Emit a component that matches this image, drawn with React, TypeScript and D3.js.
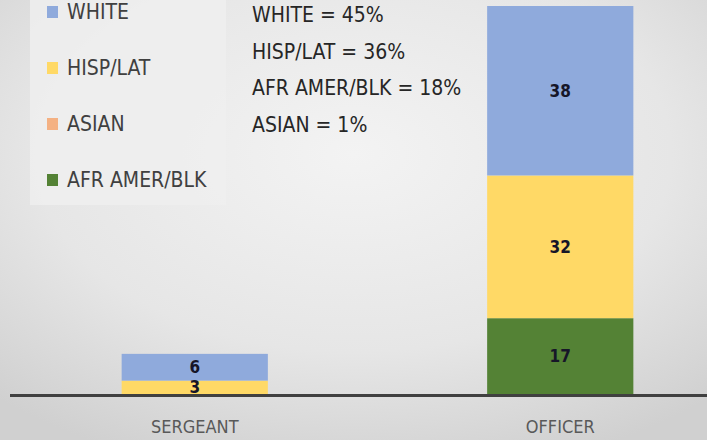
import React from "react";
import * as d3 from "d3";

const categories = ["SERGEANT", "OFFICER"];
const seriesNames = ["WHITE", "HISP/LAT", "ASIAN", "AFR AMER/BLK"];
const seriesColors = ["#8FAADC", "#FFD966", "#F4B183", "#548235"];
const whiteValues = [6, 38];
const hispValues = [3, 32];
const asianValues = [0, 0];
const afrValues = [0, 17];
const annotations = ["WHITE = 45%", "HISP/LAT = 36%", "AFR AMER/BLK = 18%", "ASIAN = 1%"];

const W = 707;
const H = 440;
const FONT = "'Liberation Sans Narrow', 'DejaVu Sans Condensed', 'Roboto Condensed', Roboto, sans-serif";

export default function App() {
  const rows = categories.map((c, i) => ({
    cat: c,
    "WHITE": whiteValues[i],
    "HISP/LAT": hispValues[i],
    "ASIAN": asianValues[i],
    "AFR AMER/BLK": afrValues[i],
  }));
  const stackOrder = ["AFR AMER/BLK", "ASIAN", "HISP/LAT", "WHITE"];
  const stacked = d3.stack<any>().keys(stackOrder)(rows);
  const x = d3.scaleBand().domain(categories).range([12, 743]).paddingInner(0.6).paddingOuter(0.3);
  const y = d3.scaleLinear().domain([0, 87]).range([394, 6]);
  const color = d3.scaleOrdinal<string, string>().domain(seriesNames).range(seriesColors);

  return (
    <svg width={W} height={H} style={{ position: "absolute", left: 0, top: 0 }} fontFamily={FONT}>
      <defs>
        <radialGradient id="bg" cx="0.5" cy="0.35" r="0.75">
          <stop offset="0" stopColor="#f3f3f3" />
          <stop offset="0.6" stopColor="#e6e6e6" />
          <stop offset="1" stopColor="#d0d0d0" />
        </radialGradient>
      </defs>
      <rect x={0} y={0} width={W} height={H} fill="url(#bg)" />
      <rect x={30} y={-5} width={196} height={210} fill="#efefef" opacity={0.85} />
      {seriesNames.map((s, i) => (
        <g key={s} transform={`translate(47, ${12 + i * 56})`}>
          <rect x={0} y={-6} width={11} height={12} fill={color(s)} />
          <text x={20} y={7} fontSize={21} fill="#404040">{s}</text>
        </g>
      ))}
      {annotations.map((a, i) => (
        <text key={a} x={252} y={22 + i * 36.5} fontSize={21} fill="#262626">{a}</text>
      ))}
      {stacked.map((layer) => (
        <g key={layer.key} fill={color(layer.key)}>
          {layer.map((d, j) =>
            d[1] - d[0] > 0 ? (
              <rect key={j} x={x(categories[j])} y={y(d[1])} width={x.bandwidth()} height={y(d[0]) - y(d[1])} />
            ) : null
          )}
        </g>
      ))}
      {stacked.map((layer) =>
        layer.map((d, j) =>
          d[1] - d[0] > 0 ? (
            <text
              key={layer.key + j}
              x={(x(categories[j]) as number) + x.bandwidth() / 2}
              y={(y(d[0]) + y(d[1])) / 2}
              dy="0.35em"
              textAnchor="middle"
              fontSize={17}
              fontWeight="bold"
              fill="#161628"
            >
              {d[1] - d[0]}
            </text>
          ) : null
        )
      )}
      <line x1={10} x2={W} y1={395.5} y2={395.5} stroke="#404040" strokeWidth={3} />
      {categories.map((c) => (
        <text key={c} x={(x(c) as number) + x.bandwidth() / 2} y={433} textAnchor="middle" fontSize={18} fill="#595959">
          {c}
        </text>
      ))}
    </svg>
  );
}
